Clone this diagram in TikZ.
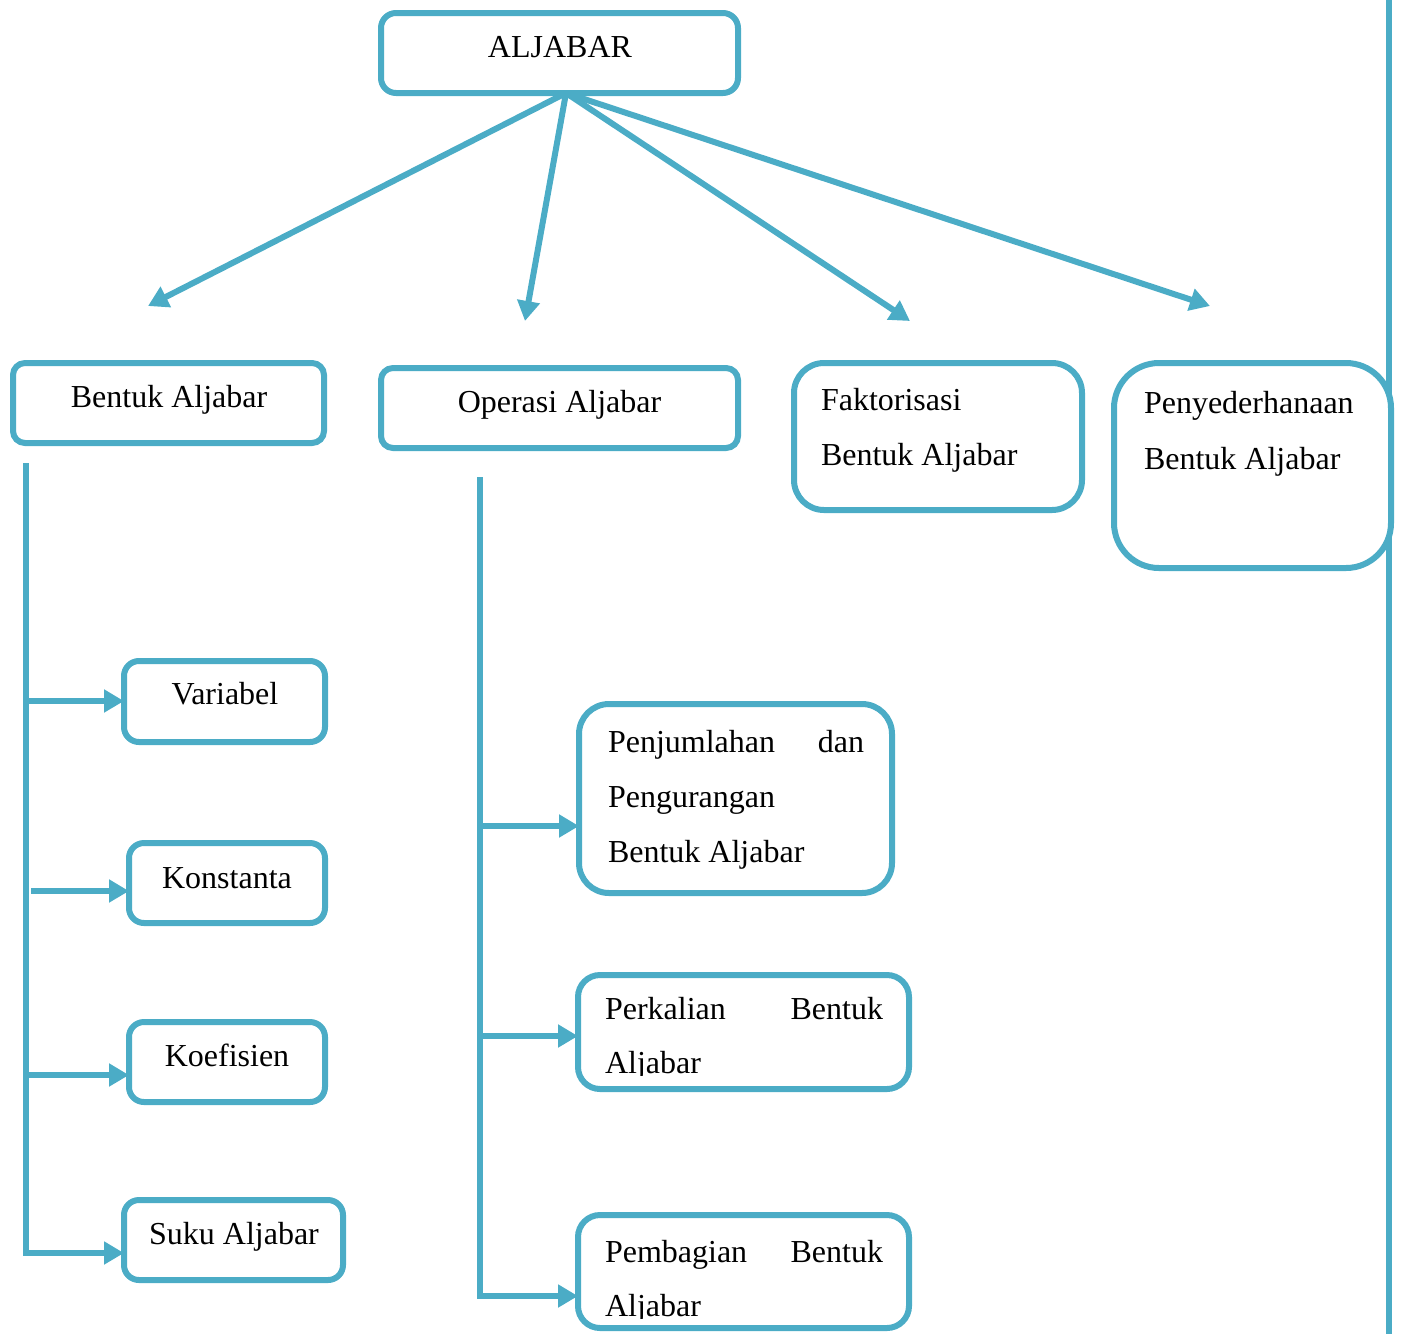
\documentclass[tikz,border=0pt]{standalone}
\usepackage{fontspec}
\setmainfont{Liberation Serif}
\usetikzlibrary{arrows.meta}
\definecolor{aqua}{HTML}{4BACC6}
\begin{document}
\begin{tikzpicture}[x=1pt,y=-1pt,
  box/.style={draw=aqua, line width=6pt, fill=white, rounded corners=#1,
              inner sep=0pt, outer sep=0pt},
  box/.default=15pt,
  lbl/.style={inner sep=0pt, outer sep=0pt, anchor=base,
              font=\fontsize{32}{55}\selectfont},
  lbll/.style={lbl, anchor=base west},
  link/.style={draw=aqua, line width=6pt, -{Triangle[length=20pt,width=22pt]}},
  rail/.style={draw=aqua, line width=6pt},
]
\useasboundingbox (0,0) rectangle (1403,1334);

% long rule along the right side
\coordinate (edgeTop) at (1389,0);
\coordinate (edgeBot) at (1389,1334);
\draw[rail] (edgeTop) -- (edgeBot);

% boxes
\node[box, minimum width=357pt, minimum height=80pt] (root) at (559.5,53) {};
\node[box=12pt, minimum width=311pt, minimum height=80pt] (bentuk) at (168.5,403) {};
\node[box=12pt, minimum width=357pt, minimum height=80pt] (operasi) at (559.5,408) {};
\node[box=30pt, minimum width=288pt, minimum height=147pt] (faktor) at (938,436.5) {};
\node[box=45pt, minimum width=277pt, minimum height=205pt] (penyed) at (1252.5,465.5) {};
\node[box, minimum width=201pt, minimum height=81pt] (var) at (224.5,701.5) {};
\node[box, minimum width=196pt, minimum height=80pt] (konst) at (227,883) {};
\node[box, minimum width=196pt, minimum height=80pt] (koef) at (227,1062) {};
\node[box, minimum width=219pt, minimum height=80pt] (suku) at (233.5,1240) {};
\node[box=30pt, minimum width=313pt, minimum height=189pt] (jumlah) at (735.5,798.5) {};
\node[box=22pt, minimum width=331pt, minimum height=114pt] (kali) at (743.5,1032) {};
\node[box=22pt, minimum width=331pt, minimum height=113pt] (bagi) at (743.5,1271.5) {};

% labels
\node[lbl] (tRoot) at (560,57) {ALJABAR};
\node[lbl] (tBentuk) at (169,407) {Bentuk Aljabar};
\node[lbl] (tOperasi) at (559.5,412) {Operasi Aljabar};
\node[lbll] (tFak1) at (821,410) {Faktorisasi};
\node[lbll] (tFak2) at (821,465) {Bentuk Aljabar};
\node[lbll] (tPen1) at (1144,413) {Penyederhanaan};
\node[lbll] (tPen2) at (1144,469) {Bentuk Aljabar};
\node[lbl] (tVar) at (225,704) {Variabel};
\node[lbl] (tKonst) at (227,888) {Konstanta};
\node[lbl] (tKoef) at (227,1066) {Koefisien};
\node[lbl] (tSuku) at (234,1244) {Suku Aljabar};
\node[lbll] (tJum1) at (608,752) {\hbox to 256pt{Penjumlahan\hfill dan}};
\node[lbll] (tJum2) at (608,807) {Pengurangan};
\node[lbll] (tJum3) at (608,862) {Bentuk Aljabar};
\node[lbll] (tKal1) at (605,1019) {\hbox to 278pt{Perkalian\hfill Bentuk}};
\begin{scope}
  \clip (590,1030) rectangle (900,1075);
  \node[lbll] (tKal2) at (605,1073) {Aljabar};
\end{scope}
\node[lbll] (tBag1) at (605,1262) {\hbox to 278pt{Pembagian\hfill Bentuk}};
\begin{scope}
  \clip (590,1275) rectangle (900,1318);
  \node[lbll] (tBag2) at (605,1316) {Aljabar};
\end{scope}

% fan of arrows below the root
\coordinate (hub) at ([xshift=6.5pt]root.south);
\coordinate (tipA) at (148,306);
\coordinate (tipB) at (525,321);
\coordinate (tipC) at (910,321);
\coordinate (tipD) at (1210,306);
\draw[link] (hub) -- (tipA);
\draw[link] (hub) -- (tipB);
\draw[link] (hub) -- (tipC);
\draw[link] (hub) -- (tipD);

% left branch
\coordinate (lTop) at (26,463);
\coordinate (lb1) at (26,701);
\coordinate (lb2) at (31,891);
\coordinate (lb3) at (26,1075);
\coordinate (lb4) at (26,1253);
\draw[link] (lTop) -- (lb4) -- (lb4 -| suku.west);
\draw[link] (lb1) -- (lb1 -| var.west);
\draw[link] (lb2) -- (lb2 -| konst.west);
\draw[link] (lb3) -- (lb3 -| koef.west);

% middle branch
\coordinate (mTop) at (480,477);
\coordinate (mb1) at (480,826);
\coordinate (mb2) at (480,1036);
\coordinate (mb3) at (480,1296);
\draw[link] (mTop) -- (mb3) -- (mb3 -| bagi.west);
\draw[link] (mb1) -- (mb1 -| jumlah.west);
\draw[link] (mb2) -- (mb2 -| kali.west);
\end{tikzpicture}
\end{document}
